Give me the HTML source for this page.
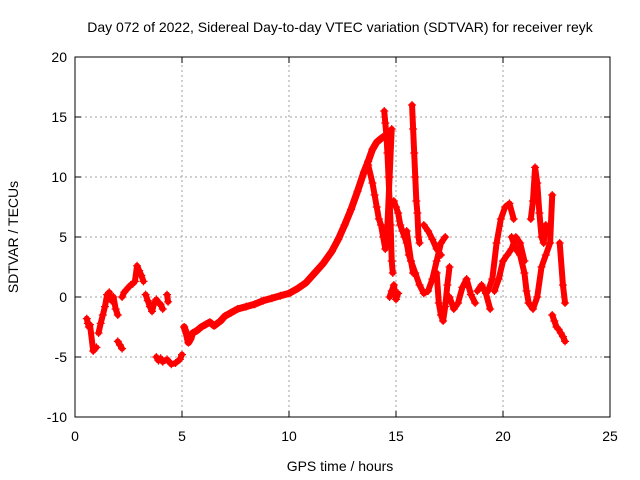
<!DOCTYPE html>
<html><head><meta charset="utf-8"><style>
html,body{margin:0;padding:0;background:#fff;}
svg{display:block;font-family:"Liberation Sans",sans-serif;}
</style></head><body>
<svg id="chart" width="640" height="480" viewBox="0 0 640 480">
<text x="340" y="32" font-size="14" text-anchor="middle">Day 072 of 2022, Sidereal Day-to-day VTEC variation (SDTVAR) for receiver reyk</text>
<text x="340" y="471" font-size="14" text-anchor="middle">GPS time / hours</text>
<text transform="translate(18,237) rotate(-90)" font-size="14" text-anchor="middle">SDTVAR / TECUs</text>
<g id="grid"></g>
<g id="ticks"></g>
<g id="series"></g>
<rect x="75" y="57" width="535" height="360" fill="none" stroke="#000" stroke-width="1"/>
</svg>
<script>
const xTicks=[0,5,10,15,20,25];
const yTicks=[-10,-5,0,5,10,15,20];
// track data (hours, TECU)
const t1Times=[0.55,0.6,0.65,0.7,0.85,1.0];
const t1Values=[-1.8,-2.2,-2.5,-2.3,-4.5,-4.2];
const t2Times=[1.1,1.2,1.3,1.4,1.5,1.6,1.7,1.8,1.9,2.0];
const t2Values=[-3.0,-2.2,-1.5,-0.8,0.2,0.4,-0.3,0.0,-1.0,-1.5];
const t3Times=[2.0,2.1,2.2];
const t3Values=[-3.7,-4.0,-4.3];
const t4Times=[2.2,2.3,2.4,2.5,2.6,2.7,2.8,2.9,3.0,3.1,3.2];
const t4Values=[0.0,0.4,0.6,0.8,1.0,1.1,1.3,2.6,2.2,1.8,1.3];
const t5Times=[3.3,3.4,3.5,3.6,3.7,3.8,3.9,4.0,4.1];
const t5Values=[0.2,-0.3,-0.8,-1.2,-0.5,-0.2,-0.5,-0.6,-1.0];
const t6Times=[3.8,3.9,4.0,4.1,4.3,4.5,4.7,4.9,5.0];
const t6Values=[-5.0,-5.3,-5.1,-5.4,-5.2,-5.6,-5.5,-5.2,-4.8];
const t7Times=[4.3,4.35];
const t7Values=[0.2,-0.4];
const t8Times=[5.1,5.2,5.3,5.4,5.5,5.7,5.9,6.1,6.3,6.5,6.8,7.0,7.3,7.6,8.0,8.4,8.8,9.2,9.6,10.0,10.4,10.8,11.2,11.6,12.0,12.3,12.6,12.9,13.2,13.5,13.7,13.9,14.1,14.3,14.45];
const t8Values=[-2.5,-3.0,-3.8,-3.5,-3.0,-2.8,-2.5,-2.3,-2.1,-2.4,-2.0,-1.6,-1.3,-1.0,-0.8,-0.6,-0.3,-0.1,0.1,0.3,0.7,1.2,2.0,2.8,3.8,4.8,6.0,7.3,8.8,10.4,11.3,12.3,12.9,13.2,13.4];
const t9Times=[13.7,13.9,14.0,14.1,14.2,14.3,14.4,14.5,14.6,14.7,14.8];
const t9Values=[11.0,9.5,8.5,7.5,6.5,6.0,5.0,4.0,6.0,10.0,14.0];
const t10Times=[14.45,14.5,14.55,14.6,14.65,14.7,14.75,14.8,14.85];
const t10Values=[15.5,14.5,13.5,12.0,10.0,8.0,6.0,3.0,2.0];
const t11Times=[14.7,14.8,14.9,15.0,15.1];
const t11Values=[0.0,0.5,1.0,-0.2,0.3];
const t12Times=[14.9,15.0,15.1,15.2,15.3,15.4,15.5,15.6,15.7,15.8];
const t12Values=[8.0,7.5,7.0,6.0,5.5,5.0,4.5,3.5,3.0,2.0];
const t13Times=[15.75,15.8,15.85,15.9,15.95,16.0,16.05,16.1];
const t13Values=[16.0,14.0,12.0,10.0,8.0,7.0,5.0,4.5];
const t14Times=[15.5,15.7,15.9,16.1,16.3,16.5,16.7,16.9,17.1,17.3];
const t14Values=[5.5,3.0,2.0,1.0,0.3,0.5,1.5,3.0,4.5,5.0];
const t15Times=[16.3,16.5,16.7,16.9,17.1];
const t15Values=[6.0,5.5,4.8,4.0,3.5];
const t16Times=[16.9,17.0,17.1,17.2,17.3,17.4,17.5];
const t16Values=[2.0,-0.5,-1.5,-2.0,-0.8,1.0,2.5];
const t17Times=[17.5,17.7,17.9,18.1,18.3,18.5,18.7];
const t17Values=[0.0,-1.0,-0.5,0.8,1.5,0.2,-0.5];
const t18Times=[18.8,19.0,19.2,19.4];
const t18Values=[0.5,1.0,0.3,-1.0];
const t19Times=[19.3,19.5,19.7,19.9,20.1,20.3,20.5];
const t19Values=[0.5,1.5,4.5,6.5,7.5,7.8,6.5];
const t20Times=[19.6,19.8,20.0,20.2,20.4,20.6,20.8,21.0];
const t20Values=[0.5,1.5,3.0,3.5,4.0,5.0,4.5,3.0];
const t21Times=[20.4,20.6,20.8,21.0,21.1,21.2];
const t21Values=[5.0,4.0,3.5,2.0,0.5,-0.5];
const t22Times=[21.3,21.4,21.5,21.6,21.7,21.8,21.9,22.0];
const t22Values=[6.5,8.0,10.8,9.5,7.0,5.0,4.5,6.0];
const t23Times=[21.2,21.4,21.6,21.8,22.0,22.2,22.3];
const t23Values=[-0.5,-1.0,0.0,2.5,3.5,4.5,8.5];
const t24Times=[22.3,22.4,22.5,22.6,22.7,22.8,22.9];
const t24Values=[-1.5,-2.0,-2.5,-2.7,-3.0,-3.3,-3.7];
const t25Times=[22.65,22.8,22.9];
const t25Values=[4.5,1.0,-0.5];
const tracks=[[t1Times,t1Values],[t2Times,t2Values],[t3Times,t3Values],[t4Times,t4Values],[t5Times,t5Values],[t6Times,t6Values],[t7Times,t7Values],[t8Times,t8Values],[t9Times,t9Values],[t10Times,t10Values],[t11Times,t11Values],[t12Times,t12Values],[t13Times,t13Values],[t14Times,t14Values],[t15Times,t15Values],[t16Times,t16Values],[t17Times,t17Values],[t18Times,t18Values],[t19Times,t19Values],[t20Times,t20Values],[t21Times,t21Values],[t22Times,t22Values],[t23Times,t23Values],[t24Times,t24Values],[t25Times,t25Values]];

const NS="http://www.w3.org/2000/svg";
const X0=75,X1=610,Y0=417,Y1=57;
function xs(t){return X0+(t-0)/(25-0)*(X1-X0);}
function ys(v){return Y0-(v+10)/(20+10)*(Y0-Y1);}
function mk(tag,attrs,parent){const e=document.createElementNS(NS,tag);for(const k in attrs)e.setAttribute(k,attrs[k]);parent.appendChild(e);return e;}
const grid=document.getElementById('grid'),ticks=document.getElementById('ticks'),series=document.getElementById('series');
xTicks.forEach(t=>{
  const x=xs(t);
  if(t>0&&t<25){const g=mk('line',{x1:x,x2:x,y1:Y0,y2:Y1,stroke:'#a0a0a0','stroke-dasharray':'2,3'},grid);
  
  }
  mk('line',{x1:x,x2:x,y1:Y0,y2:Y0-6,stroke:'#000'},ticks);
  mk('line',{x1:x,x2:x,y1:Y1,y2:Y1+6,stroke:'#000'},ticks);
  const l=mk('text',{x:x,y:Y0+24,'font-size':14,'text-anchor':'middle'},ticks);
  l.textContent=t;
  
  
});
yTicks.forEach(v=>{
  const y=ys(v);
  if(v>-10&&v<20){const g=mk('line',{x1:X0,x2:X1,y1:y,y2:y,stroke:'#a0a0a0','stroke-dasharray':'2,3'},grid);
  
  }
  mk('line',{x1:X0,x2:X0+6,y1:y,y2:y,stroke:'#000'},ticks);
  mk('line',{x1:X1,x2:X1-6,y1:y,y2:y,stroke:'#000'},ticks);
  const l=mk('text',{x:X0-8,y:y+5,'font-size':14,'text-anchor':'end'},ticks);
  l.textContent=v;
  
  
});
tracks.forEach(([ts,vs],k)=>{
  const pts=ts.map((t,i)=>xs(t)+','+ys(vs[i])).join(' ');
  const pl=mk('polyline',{points:pts,fill:'none',stroke:'#ff0000','stroke-width':(k===7?7:6),'stroke-linejoin':'round','stroke-linecap':'round'},series);
  
  
  ts.forEach((t,i)=>{
    const x=xs(t),y=ys(vs[i]);
    const p=mk('path',{d:`M${x-4},${y}H${x+4}M${x},${y-4}V${y+4}`,stroke:'#ff0000','stroke-width':1.2},series);
    
    
  });
});
</script>
</body></html>
